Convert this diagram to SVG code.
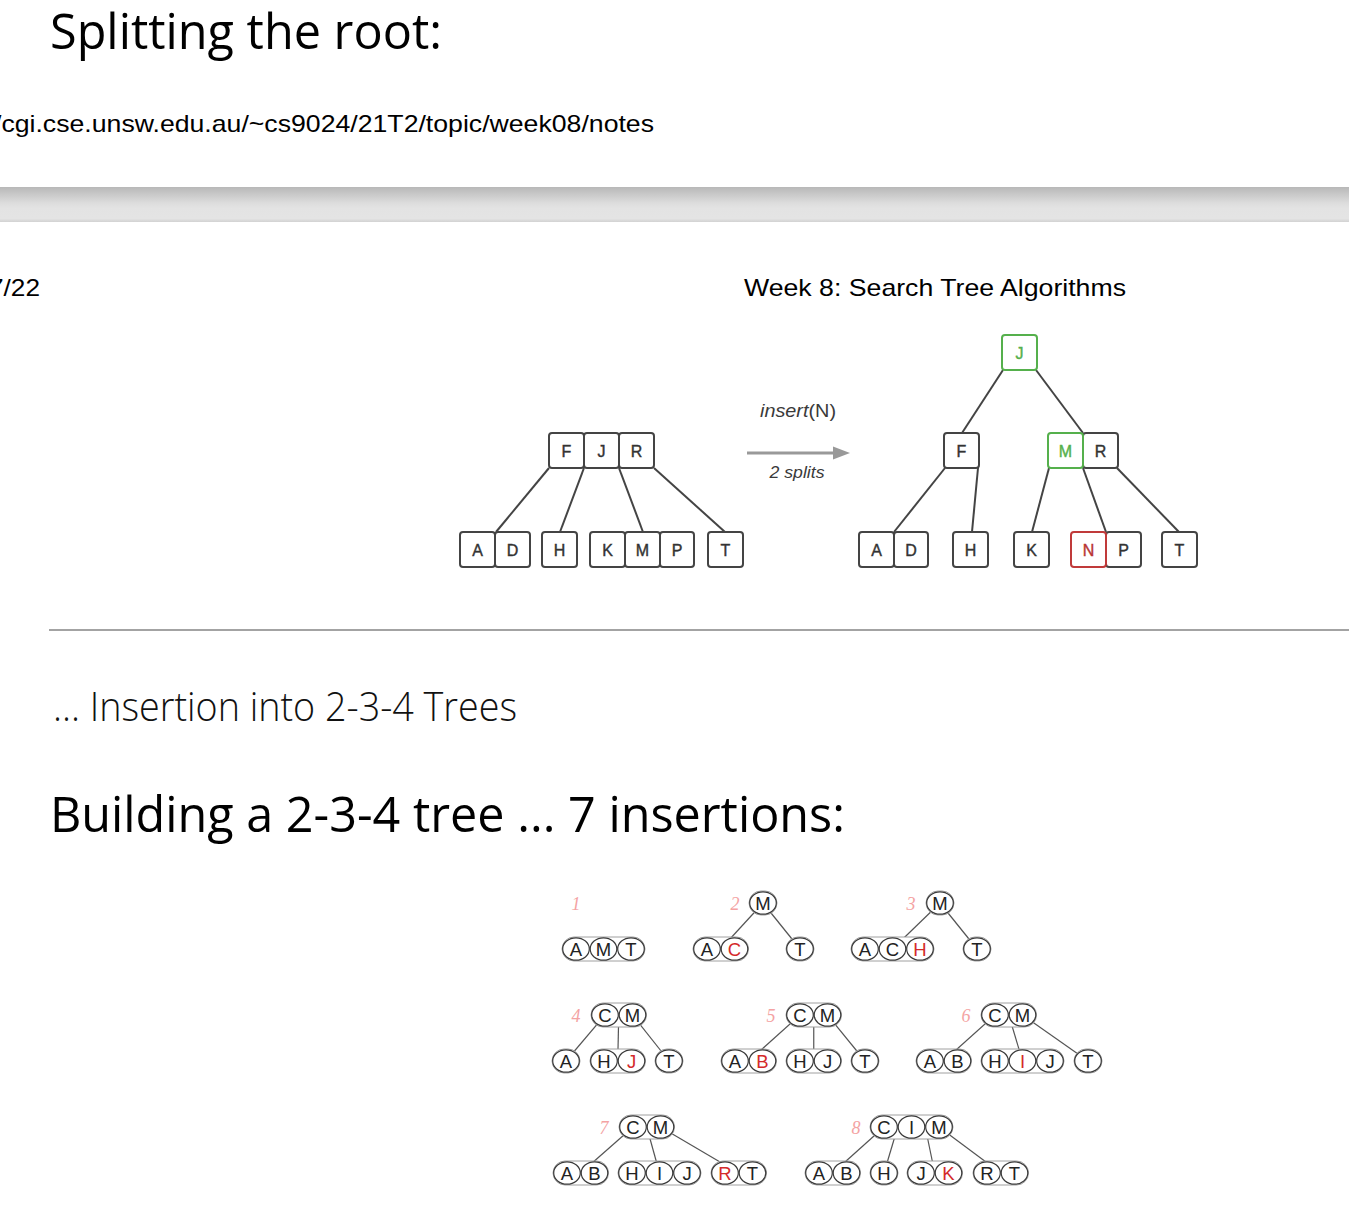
<svg xmlns="http://www.w3.org/2000/svg" width="1349" height="1216" viewBox="0 0 1349 1216">
  <defs>
    <linearGradient id="bandFill" x1="0" y1="0" x2="0" y2="1">
      <stop offset="0" stop-color="#b8b8b8"/>
      <stop offset="0.45" stop-color="#dcdcdc"/>
      <stop offset="0.6" stop-color="#e3e3e3"/>
      <stop offset="0.9" stop-color="#e4e4e4"/>
      <stop offset="1" stop-color="#d2d2d2"/>
    </linearGradient>
  </defs>
  <style>
    .h1 { font-family: "Open Sans", "Noto Sans", sans-serif; font-size: 49px; fill: #000; }
    .h2 { font-family: "Open Sans", "Noto Sans", sans-serif; font-size: 40px; font-weight: 300; fill: #111; }
    .plain { font-family: "Liberation Sans", Arial, sans-serif; font-size: 24px; fill: #000; }
    .box { fill: #fff; stroke: #444; stroke-width: 2; }
    .box.green { stroke: #55b04c; }
    .box.red { stroke: #c03a3a; }
    .bl { font-family: "Liberation Sans", Arial, sans-serif; font-size: 16px; fill: #333; stroke: #333; stroke-width: 0.4; text-anchor: middle; }
    .bl.green { fill: #55b04c; stroke: #55b04c; }
    .bl.red { fill: #b83434; stroke: #b83434; }
    .edge { stroke: #444; stroke-width: 2; fill: none; }
    .cap { font-family: "Liberation Sans", Arial, sans-serif; fill: #3a3a3a; text-anchor: middle; }
    .grp { fill: #fff; stroke: #a0a0a0; stroke-width: 1; }
    .key { fill: none; stroke: #3a3a3a; stroke-width: 1.2; }
    .kl { font-family: "Liberation Sans", Arial, sans-serif; font-size: 18.5px; fill: #222; text-anchor: middle; }
    .kl.red { fill: #d42a2a; }
    .thin { stroke: #555; stroke-width: 1.2; fill: none; }
    .num { font-family: "Liberation Serif", "Times New Roman", serif; font-style: italic; font-size: 18px; fill: #f4a3a3; text-anchor: middle; }
  </style>

  <rect width="1349" height="1216" fill="#fff"/>

  <!-- page header -->
  <text class="h1" x="50" y="49" textLength="392" lengthAdjust="spacingAndGlyphs">Splitting the root:</text>
  <text class="plain" x="-6" y="132" textLength="660" lengthAdjust="spacingAndGlyphs">/cgi.cse.unsw.edu.au/~cs9024/21T2/topic/week08/notes</text>
  <rect x="0" y="187" width="1349" height="35" fill="url(#bandFill)"/>
  <text class="plain" x="-11" y="296" textLength="51" lengthAdjust="spacingAndGlyphs">7/22</text>
  <text class="plain" x="744" y="296" textLength="382" lengthAdjust="spacingAndGlyphs">Week 8: Search Tree Algorithms</text>

  <!-- split example: connectors -->
  <g id="split-connectors">
    <line class="edge" x1="549" y1="468" x2="496" y2="532"/>
    <line class="edge" x1="584" y1="468" x2="560" y2="532"/>
    <line class="edge" x1="619" y1="468" x2="643" y2="532"/>
    <line class="edge" x1="654" y1="468" x2="725" y2="532"/>
    <line class="edge" x1="1003" y1="370" x2="962" y2="433"/>
    <line class="edge" x1="1036" y1="370" x2="1083" y2="433"/>
    <line class="edge" x1="945" y1="468" x2="894" y2="532"/>
    <line class="edge" x1="978" y1="468" x2="972" y2="532"/>
    <line class="edge" x1="1049" y1="468" x2="1032" y2="532"/>
    <line class="edge" x1="1083" y1="468" x2="1106" y2="532"/>
    <line class="edge" x1="1117" y1="468" x2="1179" y2="532"/>
  </g>

  <!-- split example: before -->
  <g id="b-fjr">
    <rect class="box" x="549" y="433" width="35" height="35" rx="3"/>
    <rect class="box" x="584" y="433" width="35" height="35" rx="3"/>
    <rect class="box" x="619" y="433" width="35" height="35" rx="3"/>
    <text class="bl" x="566.5" y="456.5">F</text>
    <text class="bl" x="601.5" y="456.5">J</text>
    <text class="bl" x="636.5" y="456.5">R</text>
  </g>
  <g id="b-ad">
    <rect class="box" x="460" y="532" width="35" height="35" rx="3"/>
    <rect class="box" x="495" y="532" width="35" height="35" rx="3"/>
    <text class="bl" x="477.5" y="555.5">A</text>
    <text class="bl" x="512.5" y="555.5">D</text>
  </g>
  <g id="b-h">
    <rect class="box" x="542" y="532" width="35" height="35" rx="3"/>
    <text class="bl" x="559.5" y="555.5">H</text>
  </g>
  <g id="b-kmp">
    <rect class="box" x="590" y="532" width="35" height="35" rx="3"/>
    <rect class="box" x="625" y="532" width="35" height="35" rx="3"/>
    <rect class="box" x="660" y="532" width="34" height="35" rx="3"/>
    <text class="bl" x="607.5" y="555.5">K</text>
    <text class="bl" x="642.5" y="555.5">M</text>
    <text class="bl" x="677" y="555.5">P</text>
  </g>
  <g id="b-t">
    <rect class="box" x="708" y="532" width="35" height="35" rx="3"/>
    <text class="bl" x="725.5" y="555.5">T</text>
  </g>

  <!-- transition arrow -->
  <g id="insert-arrow">
    <line x1="747" y1="453" x2="836" y2="453" stroke="#999" stroke-width="3"/>
    <polygon points="833,446.5 850,453 833,459.5" fill="#999"/>
    <text class="cap" x="798" y="417" font-size="18" textLength="76" lengthAdjust="spacingAndGlyphs"><tspan font-style="italic">insert</tspan>(N)</text>
    <text class="cap" x="797" y="478" font-size="16" font-style="italic" textLength="55" lengthAdjust="spacingAndGlyphs">2 splits</text>
  </g>

  <!-- split example: after -->
  <g id="a-j">
    <rect class="box green" x="1002" y="335" width="35" height="35" rx="3"/>
    <text class="bl green" x="1019.5" y="358.5">J</text>
  </g>
  <g id="a-f">
    <rect class="box" x="944" y="433" width="35" height="35" rx="3"/>
    <text class="bl" x="961.5" y="456.5">F</text>
  </g>
  <g id="a-mr">
    <rect class="box" x="1083" y="433" width="35" height="35" rx="3"/>
    <rect class="box green" x="1048" y="433" width="35" height="35" rx="3"/>
    <text class="bl green" x="1065.5" y="456.5">M</text>
    <text class="bl" x="1100.5" y="456.5">R</text>
  </g>
  <g id="a-ad">
    <rect class="box" x="859" y="532" width="35" height="35" rx="3"/>
    <rect class="box" x="894" y="532" width="34" height="35" rx="3"/>
    <text class="bl" x="876.5" y="555.5">A</text>
    <text class="bl" x="911" y="555.5">D</text>
  </g>
  <g id="a-h">
    <rect class="box" x="953" y="532" width="35" height="35" rx="3"/>
    <text class="bl" x="970.5" y="555.5">H</text>
  </g>
  <g id="a-k">
    <rect class="box" x="1014" y="532" width="35" height="35" rx="3"/>
    <text class="bl" x="1031.5" y="555.5">K</text>
  </g>
  <g id="a-np">
    <rect class="box" x="1106" y="532" width="35" height="35" rx="3"/>
    <rect class="box red" x="1071" y="532" width="35" height="35" rx="3"/>
    <text class="bl red" x="1088.5" y="555.5">N</text>
    <text class="bl" x="1123.5" y="555.5">P</text>
  </g>
  <g id="a-t">
    <rect class="box" x="1162" y="532" width="35" height="35" rx="3"/>
    <text class="bl" x="1179.5" y="555.5">T</text>
  </g>

  <line x1="49" y1="630" x2="1349" y2="630" stroke="#a3a3a3" stroke-width="2"/>

  <text class="h2" x="53" y="721" textLength="464" lengthAdjust="spacingAndGlyphs">... Insertion into 2-3-4 Trees</text>
  <text class="h1" x="50" y="832" textLength="795" lengthAdjust="spacingAndGlyphs">Building a 2-3-4 tree ... 7 insertions:</text>

  <!-- step numbers -->
  <g id="step-numbers">
    <text class="num" x="576" y="910">1</text>
    <text class="num" x="735" y="910">2</text>
    <text class="num" x="911" y="910">3</text>
    <text class="num" x="576" y="1022">4</text>
    <text class="num" x="771" y="1022">5</text>
    <text class="num" x="966" y="1022">6</text>
    <text class="num" x="604" y="1134">7</text>
    <text class="num" x="856" y="1134">8</text>
  </g>

  <!-- insertion sequence: connectors (center to center, covered by nodes) -->
  <g id="build-connectors">
    <line class="thin" x1="763" y1="903" x2="720.75" y2="949"/>
    <line class="thin" x1="763" y1="903" x2="800" y2="949"/>
    <line class="thin" x1="940" y1="903" x2="892.5" y2="949"/>
    <line class="thin" x1="940" y1="903" x2="977" y2="949"/>

    <line class="thin" x1="605" y1="1015" x2="566" y2="1061"/>
    <line class="thin" x1="618.75" y1="1015" x2="617.75" y2="1061"/>
    <line class="thin" x1="632.5" y1="1015" x2="669" y2="1061"/>

    <line class="thin" x1="800" y1="1015" x2="748.75" y2="1061"/>
    <line class="thin" x1="813.75" y1="1015" x2="813.75" y2="1061"/>
    <line class="thin" x1="827.5" y1="1015" x2="865" y2="1061"/>

    <line class="thin" x1="995" y1="1015" x2="943.75" y2="1061"/>
    <line class="thin" x1="1008.75" y1="1015" x2="1022.5" y2="1061"/>
    <line class="thin" x1="1022.5" y1="1015" x2="1088" y2="1061"/>

    <line class="thin" x1="633" y1="1127" x2="580.75" y2="1173"/>
    <line class="thin" x1="646.75" y1="1127" x2="659.5" y2="1173"/>
    <line class="thin" x1="660.5" y1="1127" x2="738.75" y2="1173"/>

    <line class="thin" x1="884" y1="1127" x2="832.75" y2="1173"/>
    <line class="thin" x1="897.75" y1="1127" x2="884" y2="1173"/>
    <line class="thin" x1="925.25" y1="1127" x2="934.75" y2="1173"/>
    <line class="thin" x1="939" y1="1127" x2="1000.75" y2="1173"/>
  </g>

  <!-- step 1 -->
  <g id="s1-amt">
    <rect class="grp" x="562" y="937" width="83" height="24" rx="12"/>
    <ellipse class="key" cx="576" cy="949" rx="13.3" ry="11.2"/>
    <ellipse class="key" cx="603.5" cy="949" rx="13.3" ry="11.2"/>
    <ellipse class="key" cx="631" cy="949" rx="13.3" ry="11.2"/>
    <text class="kl" x="576" y="955.5">A</text>
    <text class="kl" x="603.5" y="955.5">M</text>
    <text class="kl" x="631" y="955.5">T</text>
  </g>

  <!-- step 2 -->
  <g id="s2-m">
    <rect class="grp" x="749" y="891" width="28" height="24" rx="12"/>
    <ellipse class="key" cx="763" cy="903" rx="13.3" ry="11.2"/>
    <text class="kl" x="763" y="909.5">M</text>
  </g>
  <g id="s2-ac">
    <rect class="grp" x="693" y="937" width="55.5" height="24" rx="12"/>
    <ellipse class="key" cx="707" cy="949" rx="13.3" ry="11.2"/>
    <ellipse class="key" cx="734.5" cy="949" rx="13.3" ry="11.2"/>
    <text class="kl" x="707" y="955.5">A</text>
    <text class="kl red" x="734.5" y="955.5">C</text>
  </g>
  <g id="s2-t">
    <rect class="grp" x="786" y="937" width="28" height="24" rx="12"/>
    <ellipse class="key" cx="800" cy="949" rx="13.3" ry="11.2"/>
    <text class="kl" x="800" y="955.5">T</text>
  </g>

  <!-- step 3 -->
  <g id="s3-m">
    <rect class="grp" x="926" y="891" width="28" height="24" rx="12"/>
    <ellipse class="key" cx="940" cy="903" rx="13.3" ry="11.2"/>
    <text class="kl" x="940" y="909.5">M</text>
  </g>
  <g id="s3-ach">
    <rect class="grp" x="851" y="937" width="83" height="24" rx="12"/>
    <ellipse class="key" cx="865" cy="949" rx="13.3" ry="11.2"/>
    <ellipse class="key" cx="892.5" cy="949" rx="13.3" ry="11.2"/>
    <ellipse class="key" cx="920" cy="949" rx="13.3" ry="11.2"/>
    <text class="kl" x="865" y="955.5">A</text>
    <text class="kl" x="892.5" y="955.5">C</text>
    <text class="kl red" x="920" y="955.5">H</text>
  </g>
  <g id="s3-t">
    <rect class="grp" x="963" y="937" width="28" height="24" rx="12"/>
    <ellipse class="key" cx="977" cy="949" rx="13.3" ry="11.2"/>
    <text class="kl" x="977" y="955.5">T</text>
  </g>

  <!-- step 4 -->
  <g id="s4-cm">
    <rect class="grp" x="591" y="1003" width="55.5" height="24" rx="12"/>
    <ellipse class="key" cx="605" cy="1015" rx="13.3" ry="11.2"/>
    <ellipse class="key" cx="632.5" cy="1015" rx="13.3" ry="11.2"/>
    <text class="kl" x="605" y="1021.5">C</text>
    <text class="kl" x="632.5" y="1021.5">M</text>
  </g>
  <g id="s4-a">
    <rect class="grp" x="552" y="1049" width="28" height="24" rx="12"/>
    <ellipse class="key" cx="566" cy="1061" rx="13.3" ry="11.2"/>
    <text class="kl" x="566" y="1067.5">A</text>
  </g>
  <g id="s4-hj">
    <rect class="grp" x="590" y="1049" width="55.5" height="24" rx="12"/>
    <ellipse class="key" cx="604" cy="1061" rx="13.3" ry="11.2"/>
    <ellipse class="key" cx="631.5" cy="1061" rx="13.3" ry="11.2"/>
    <text class="kl" x="604" y="1067.5">H</text>
    <text class="kl red" x="631.5" y="1067.5">J</text>
  </g>
  <g id="s4-t">
    <rect class="grp" x="655" y="1049" width="28" height="24" rx="12"/>
    <ellipse class="key" cx="669" cy="1061" rx="13.3" ry="11.2"/>
    <text class="kl" x="669" y="1067.5">T</text>
  </g>

  <!-- step 5 -->
  <g id="s5-cm">
    <rect class="grp" x="786" y="1003" width="55.5" height="24" rx="12"/>
    <ellipse class="key" cx="800" cy="1015" rx="13.3" ry="11.2"/>
    <ellipse class="key" cx="827.5" cy="1015" rx="13.3" ry="11.2"/>
    <text class="kl" x="800" y="1021.5">C</text>
    <text class="kl" x="827.5" y="1021.5">M</text>
  </g>
  <g id="s5-ab">
    <rect class="grp" x="721" y="1049" width="55.5" height="24" rx="12"/>
    <ellipse class="key" cx="735" cy="1061" rx="13.3" ry="11.2"/>
    <ellipse class="key" cx="762.5" cy="1061" rx="13.3" ry="11.2"/>
    <text class="kl" x="735" y="1067.5">A</text>
    <text class="kl red" x="762.5" y="1067.5">B</text>
  </g>
  <g id="s5-hj">
    <rect class="grp" x="786" y="1049" width="55.5" height="24" rx="12"/>
    <ellipse class="key" cx="800" cy="1061" rx="13.3" ry="11.2"/>
    <ellipse class="key" cx="827.5" cy="1061" rx="13.3" ry="11.2"/>
    <text class="kl" x="800" y="1067.5">H</text>
    <text class="kl" x="827.5" y="1067.5">J</text>
  </g>
  <g id="s5-t">
    <rect class="grp" x="851" y="1049" width="28" height="24" rx="12"/>
    <ellipse class="key" cx="865" cy="1061" rx="13.3" ry="11.2"/>
    <text class="kl" x="865" y="1067.5">T</text>
  </g>

  <!-- step 6 -->
  <g id="s6-cm">
    <rect class="grp" x="981" y="1003" width="55.5" height="24" rx="12"/>
    <ellipse class="key" cx="995" cy="1015" rx="13.3" ry="11.2"/>
    <ellipse class="key" cx="1022.5" cy="1015" rx="13.3" ry="11.2"/>
    <text class="kl" x="995" y="1021.5">C</text>
    <text class="kl" x="1022.5" y="1021.5">M</text>
  </g>
  <g id="s6-ab">
    <rect class="grp" x="916" y="1049" width="55.5" height="24" rx="12"/>
    <ellipse class="key" cx="930" cy="1061" rx="13.3" ry="11.2"/>
    <ellipse class="key" cx="957.5" cy="1061" rx="13.3" ry="11.2"/>
    <text class="kl" x="930" y="1067.5">A</text>
    <text class="kl" x="957.5" y="1067.5">B</text>
  </g>
  <g id="s6-hij">
    <rect class="grp" x="981" y="1049" width="83" height="24" rx="12"/>
    <ellipse class="key" cx="995" cy="1061" rx="13.3" ry="11.2"/>
    <ellipse class="key" cx="1022.5" cy="1061" rx="13.3" ry="11.2"/>
    <ellipse class="key" cx="1050" cy="1061" rx="13.3" ry="11.2"/>
    <text class="kl" x="995" y="1067.5">H</text>
    <text class="kl red" x="1022.5" y="1067.5">I</text>
    <text class="kl" x="1050" y="1067.5">J</text>
  </g>
  <g id="s6-t">
    <rect class="grp" x="1074" y="1049" width="28" height="24" rx="12"/>
    <ellipse class="key" cx="1088" cy="1061" rx="13.3" ry="11.2"/>
    <text class="kl" x="1088" y="1067.5">T</text>
  </g>

  <!-- step 7 -->
  <g id="s7-cm">
    <rect class="grp" x="619" y="1115" width="55.5" height="24" rx="12"/>
    <ellipse class="key" cx="633" cy="1127" rx="13.3" ry="11.2"/>
    <ellipse class="key" cx="660.5" cy="1127" rx="13.3" ry="11.2"/>
    <text class="kl" x="633" y="1133.5">C</text>
    <text class="kl" x="660.5" y="1133.5">M</text>
  </g>
  <g id="s7-ab">
    <rect class="grp" x="553" y="1161" width="55.5" height="24" rx="12"/>
    <ellipse class="key" cx="567" cy="1173" rx="13.3" ry="11.2"/>
    <ellipse class="key" cx="594.5" cy="1173" rx="13.3" ry="11.2"/>
    <text class="kl" x="567" y="1179.5">A</text>
    <text class="kl" x="594.5" y="1179.5">B</text>
  </g>
  <g id="s7-hij">
    <rect class="grp" x="618" y="1161" width="83" height="24" rx="12"/>
    <ellipse class="key" cx="632" cy="1173" rx="13.3" ry="11.2"/>
    <ellipse class="key" cx="659.5" cy="1173" rx="13.3" ry="11.2"/>
    <ellipse class="key" cx="687" cy="1173" rx="13.3" ry="11.2"/>
    <text class="kl" x="632" y="1179.5">H</text>
    <text class="kl" x="659.5" y="1179.5">I</text>
    <text class="kl" x="687" y="1179.5">J</text>
  </g>
  <g id="s7-rt">
    <rect class="grp" x="711" y="1161" width="55.5" height="24" rx="12"/>
    <ellipse class="key" cx="725" cy="1173" rx="13.3" ry="11.2"/>
    <ellipse class="key" cx="752.5" cy="1173" rx="13.3" ry="11.2"/>
    <text class="kl red" x="725" y="1179.5">R</text>
    <text class="kl" x="752.5" y="1179.5">T</text>
  </g>

  <!-- step 8 -->
  <g id="s8-cim">
    <rect class="grp" x="870" y="1115" width="83" height="24" rx="12"/>
    <ellipse class="key" cx="884" cy="1127" rx="13.3" ry="11.2"/>
    <ellipse class="key" cx="911.5" cy="1127" rx="13.3" ry="11.2"/>
    <ellipse class="key" cx="939" cy="1127" rx="13.3" ry="11.2"/>
    <text class="kl" x="884" y="1133.5">C</text>
    <text class="kl" x="911.5" y="1133.5">I</text>
    <text class="kl" x="939" y="1133.5">M</text>
  </g>
  <g id="s8-ab">
    <rect class="grp" x="805" y="1161" width="55.5" height="24" rx="12"/>
    <ellipse class="key" cx="819" cy="1173" rx="13.3" ry="11.2"/>
    <ellipse class="key" cx="846.5" cy="1173" rx="13.3" ry="11.2"/>
    <text class="kl" x="819" y="1179.5">A</text>
    <text class="kl" x="846.5" y="1179.5">B</text>
  </g>
  <g id="s8-h">
    <rect class="grp" x="870" y="1161" width="28" height="24" rx="12"/>
    <ellipse class="key" cx="884" cy="1173" rx="13.3" ry="11.2"/>
    <text class="kl" x="884" y="1179.5">H</text>
  </g>
  <g id="s8-jk">
    <rect class="grp" x="907" y="1161" width="55.5" height="24" rx="12"/>
    <ellipse class="key" cx="921" cy="1173" rx="13.3" ry="11.2"/>
    <ellipse class="key" cx="948.5" cy="1173" rx="13.3" ry="11.2"/>
    <text class="kl" x="921" y="1179.5">J</text>
    <text class="kl red" x="948.5" y="1179.5">K</text>
  </g>
  <g id="s8-rt">
    <rect class="grp" x="973" y="1161" width="55.5" height="24" rx="12"/>
    <ellipse class="key" cx="987" cy="1173" rx="13.3" ry="11.2"/>
    <ellipse class="key" cx="1014.5" cy="1173" rx="13.3" ry="11.2"/>
    <text class="kl" x="987" y="1179.5">R</text>
    <text class="kl" x="1014.5" y="1179.5">T</text>
  </g>
</svg>
